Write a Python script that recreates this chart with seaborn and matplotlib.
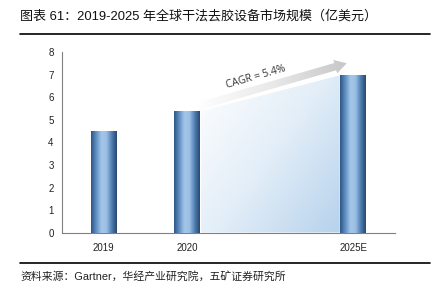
import numpy as np
import pandas as pd
import matplotlib
matplotlib.use("Agg")
import matplotlib.pyplot as plt
import seaborn as sns
from matplotlib.colors import LinearSegmentedColormap
from matplotlib.patches import Polygon, FancyArrow
from matplotlib.lines import Line2D
from matplotlib.transforms import IdentityTransform

# ---- data ----
categories = ["2019", "2020", "", "2025E"]
years = ["2019", "2020", "2025E"]
values = [4.5, 5.4, 7.0]
yticks = [0, 1, 2, 3, 4, 5, 6, 7, 8]
title = "图表 61：2019-2025 年全球干法去胶设备市场规模（亿美元）"
source = "资料来源：Gartner，华经产业研究院，五矿证券研究所"
cagr_label = "CAGR = 5.4%"

sns.set_theme(style="white")
plt.rcParams["font.family"] = ["Liberation Sans", "Noto Sans CJK SC", "DejaVu Sans"]

fig = plt.figure(figsize=(4.42, 3.02), dpi=100)
ax = fig.add_axes([62 / 442, 1 - 233 / 302, (395 - 62) / 442, (233 - 52) / 302])

df = pd.DataFrame({"year": years, "value": values})
sns.barplot(data=df, x="year", y="value", order=categories, width=0.31,
            color="#5b87b8", ax=ax, zorder=3)

ax.set_xlim(-0.5, 3.5)
ax.set_ylim(0, 8)
ax.set_yticks(yticks)
ax.set_xlabel("")
ax.set_ylabel("")

# bar gradient
bar_cmap = LinearSegmentedColormap.from_list(
    "bar", ["#2d5585", "#5f8fc2", "#a3c6e8", "#9cc0e4", "#4f7fb2", "#27486f"])
grad = np.linspace(0, 1, 128).reshape(1, -1)
bars = [p for p in ax.patches if p.get_height() > 0]
for p in bars:
    x0, y0, w, h = p.get_x(), p.get_y(), p.get_width(), p.get_height()
    im = ax.imshow(grad, cmap=bar_cmap, aspect="auto", extent=[x0, x0 + w, y0, y0 + h],
                   zorder=4, interpolation="bicubic")
    im.set_clip_path(p)

ax.set_xlim(-0.5, 3.5)
ax.set_ylim(0, 8)

# shaded growth area between 2020 and 2025E
b2020, b2025 = bars[1], bars[2]
xa = b2020.get_x() + b2020.get_width()
xb = b2025.get_x()
ya, yb = b2020.get_height(), b2025.get_height()
poly = Polygon([(xa, 0), (xa, ya), (xb, yb), (xb, 0)], closed=True,
               facecolor="none", edgecolor="white", lw=0.8, zorder=2)
ax.add_patch(poly)
gx, gy = np.meshgrid(np.linspace(0, 1, 200), np.linspace(0, 1, 200))
area_grad = (gx * 0.55 + gy * 0.45)
area_cmap = LinearSegmentedColormap.from_list("area", ["#ffffff", "#e3eef8", "#b6d2ec"])
im = ax.imshow(area_grad, cmap=area_cmap, aspect="auto", origin="upper",
               extent=[xa, xb, 0, yb], zorder=1.5, interpolation="bicubic")
im.set_clip_path(poly)

ax.set_xlim(-0.5, 3.5)
ax.set_ylim(0, 8)

# arrow (in pixel space)
p0 = ax.transData.transform((xa - 0.02, ya + 0.2))
p1 = ax.transData.transform((2.92, 7.5))
arrow = FancyArrow(p0[0], p0[1], p1[0] - p0[0], p1[1] - p0[1], width=7.5,
                   head_width=14, head_length=12, length_includes_head=True,
                   transform=IdentityTransform(), facecolor="none", edgecolor="none")
fig.add_artist(arrow)
arr_cmap = LinearSegmentedColormap.from_list("arr", ["#ffffff", "#e8e8e8", "#c4c4c4"])
im = ax.imshow(grad, cmap=arr_cmap, aspect="auto", extent=[xa - 0.05, 3.0, 5.2, 7.95],
               zorder=5, interpolation="bicubic")
im.set_clip_path(arrow)
ax.set_xlim(-0.5, 3.5)
ax.set_ylim(0, 8)

ang = np.degrees(np.arctan2(p1[1] - p0[1], p1[0] - p0[0]))
ax.text(1.83, 6.88, cagr_label, rotation=ang, rotation_mode="anchor",
        ha="center", va="center", fontsize=7.5, color="#333333", zorder=6,
        family=["Open Sans", "DejaVu Sans"])

# axes styling
for s in ["top", "right"]:
    ax.spines[s].set_visible(False)
for s in ["left", "bottom"]:
    ax.spines[s].set_color("#808080")
    ax.spines[s].set_linewidth(0.8)
ax.tick_params(axis="both", which="both", direction="out", length=3, width=0.8,
               color="#808080", labelsize=7, labelcolor="#222222", pad=3)
ax.tick_params(axis="x", pad=4)

# title, rules and source
fig.text(20 / 442, 1 - 16 / 302, title, fontsize=9.4, color="#111111",
         va="center", ha="left", family=["Liberation Sans", "Noto Sans CJK SC", "DejaVu Sans"])
fig.add_artist(Line2D([20 / 442, 430 / 442], [1 - 34 / 302] * 2, color="black", lw=1.2))
fig.add_artist(Line2D([20 / 442, 430 / 442], [1 - 263 / 302] * 2, color="black", lw=1.2))
fig.text(20 / 442, 1 - 276 / 302, source, fontsize=7.8, color="#222222",
         va="center", ha="left", family=["Liberation Sans", "Noto Sans CJK SC", "DejaVu Sans"])

fig.savefig("out.png", dpi=100)
